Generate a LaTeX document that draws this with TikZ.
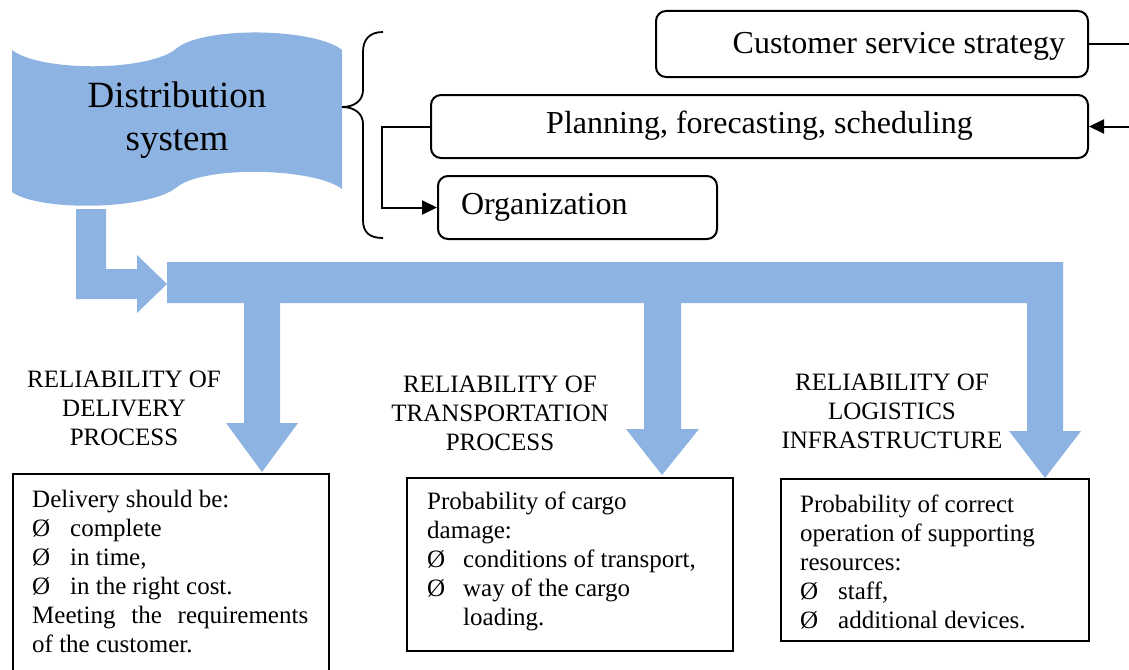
\documentclass[tikz,border=0pt]{standalone}
\usepackage{fontspec}
\setmainfont{Liberation Serif}
\usetikzlibrary{arrows.meta}
\definecolor{flowblue}{HTML}{8DB3E2}
\begin{document}
\begin{tikzpicture}[x=1pt,y=-1pt,
  every node/.style={font=\fontsize{25}{29}\selectfont},
  topbox/.style={draw, line width=2pt, rounded corners=10pt, anchor=north west,
    inner sep=0pt, font=\fontsize{32}{38}\selectfont},
  plainbox/.style={draw, line width=2pt, anchor=north west, inner sep=0pt},
  boxtext/.style={anchor=north west, inner sep=0pt, align=left},
  headtext/.style={anchor=north, inner sep=0pt, align=center},
  link/.style={line width=2pt},
  tip/.style={-{Triangle[length=15pt,width=14pt]}},
]
\useasboundingbox (0,0) rectangle (1129,669);
\clip (0,0) rectangle (1129,669);

% distribution system (punched tape shape)
\fill[flowblue] (12,50) .. controls (40,72) and (150,72) .. (177,48)
  .. controls (205,26) and (315,28) .. (342,50) -- (342,189)
  .. controls (315,168) and (205,165) .. (177,187)
  .. controls (150,210) and (40,212) .. (12,192) -- cycle;
\node[font=\fontsize{37}{43}\selectfont, align=center] (dist) at (177,120) {Distribution\\system};

% brace grouping the management functions
\draw[line width=1.8pt] (383,32) .. controls (369,32) and (363,40) .. (363,52) -- (363,90)
  .. controls (363,100) and (355,107) .. (342,107)
  .. controls (355,107) and (363,114) .. (363,124) -- (363,220)
  .. controls (363,232) and (369,238) .. (383,238);

% management function boxes
\node[topbox, minimum width=432pt, minimum height=66pt,
  text height=26pt, text depth=6pt] (css) at (655,10)
  {\makebox[386pt][r]{Customer service strategy}};
\node[topbox, minimum width=657pt, minimum height=63pt,
  text height=23pt, text depth=10pt] (plan) at (430,94) {Planning, forecasting, scheduling};
\node[topbox, minimum width=279pt, minimum height=63pt,
  text height=23pt, text depth=10pt] (org) at (437,175)
  {\makebox[233pt][l]{Organization}};

\coordinate (edge) at (1129,0);
\draw[link] (css.east) -- (css.east -| edge);
\draw[link, tip] (plan.east -| edge) -- (plan.east);
\draw[link, tip] (plan.west) -- ++(-48,0) |- (org.west);

% bent arrow from the distribution system
\fill[flowblue] (76,209) -- (106,209) -- (106,269) -- (137,269) -- (137,255)
  -- (167,284) -- (137,313) -- (137,299) -- (76,299) -- cycle;

% main bar with three downward arrows
\fill[flowblue] (167,262) -- (1063,262) -- (1063,431) -- (1081,431) -- (1045,478)
  -- (1009,431) -- (1027,431) -- (1027,303) -- (681,303) -- (681,429) -- (699,429)
  -- (662,475) -- (626,429) -- (644,429) -- (644,303) -- (280,303) -- (280,423)
  -- (298,423) -- (262,472) -- (226,423) -- (244,423) -- (244,303) -- (167,303) -- cycle;

% headings
\node[headtext] (h1) at (124,367) {\rule{0pt}{20pt}RELIABILITY OF\\DELIVERY\\PROCESS};
\node[headtext] (h2) at (500,372) {\rule{0pt}{20pt}RELIABILITY OF\\TRANSPORTATION\\PROCESS};
\node[headtext] (h3) at (892,370) {\rule{0pt}{20pt}RELIABILITY OF\\LOGISTICS\\INFRASTRUCTURE};

% description boxes
\node[plainbox, minimum width=316pt, minimum height=240pt] (b1) at (12,473) {};
\node[plainbox, minimum width=326pt, minimum height=173pt] (b2) at (406,477) {};
\node[plainbox, minimum width=308pt, minimum height=162pt] (b3) at (780,478) {};

\node[boxtext] (t1) at (32,487) {\rule{0pt}{20pt}Delivery should be:\\
  \makebox[38pt][l]{Ø}complete\\
  \makebox[38pt][l]{Ø}in time,\\
  \makebox[38pt][l]{Ø}in the right cost.\\
  \makebox[276pt][s]{Meeting the requirements}\\
  of the customer.};
\node[boxtext] (t2) at (427,489) {\rule{0pt}{20pt}Probability of cargo\\
  damage:\\
  \makebox[36pt][l]{Ø}conditions of transport,\\
  \makebox[36pt][l]{Ø}way of the cargo\\
  \hspace*{36pt}loading.};
\node[boxtext] (t3) at (800,492) {\rule{0pt}{20pt}Probability of correct\\
  operation of supporting\\
  resources:\\
  \makebox[38pt][l]{Ø}staff,\\
  \makebox[38pt][l]{Ø}additional devices.};
\end{tikzpicture}
\end{document}
